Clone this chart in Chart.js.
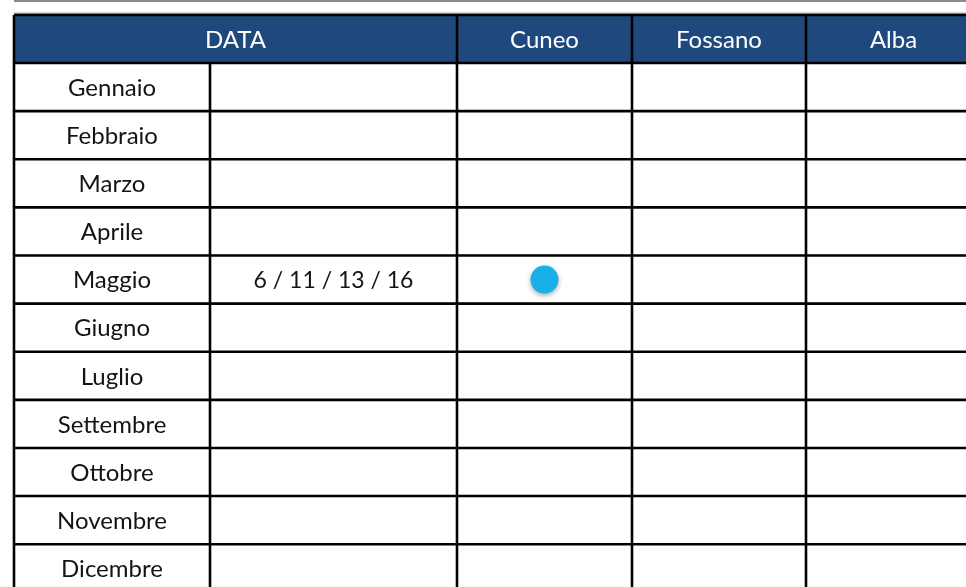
<!DOCTYPE html>
<html>
<head>
<meta charset="utf-8">
<script src="https://cdn.jsdelivr.net/npm/chart.js@4/dist/chart.umd.min.js"></script>
<style>
  html, body { margin: 0; padding: 0; background: #fff; }
  #wrap { width: 966px; height: 587px; position: relative; }
</style>
</head>
<body>
<div id="wrap"><canvas id="tableChart"></canvas></div>
<script>
// table contents
const headerLabel = 'DATA';
const cities = ['Cuneo', 'Fossano', 'Alba'];
const months = ['Gennaio', 'Febbraio', 'Marzo', 'Aprile', 'Maggio', 'Giugno', 'Luglio', 'Settembre', 'Ottobre', 'Novembre', 'Dicembre'];
const dates = ['', '', '', '', '6 / 11 / 13 / 16', '', '', '', '', '', ''];
// marked cells (month + city)
const markMonths = ['Maggio'];
const markCities = ['Cuneo'];

// layout: column widths (month, dates, then one per city)
const colWidths = [196, 247, 175, 174, 175];
const colEdges = [0];
colWidths.forEach(w => colEdges.push(colEdges[colEdges.length - 1] + w));
const colCenter = i => (colEdges[i] + colEdges[i + 1]) / 2;

const BLUE = '#1f497d';
const FONT = 'Lato, "Open Sans", sans-serif';

const tablePlugin = {
  id: 'tableGrid',
  beforeDatasetsDraw(chart) {
    const { ctx, scales: { x, y } } = chart;
    const px = v => x.getPixelForValue(v);
    const py = v => y.getPixelForValue(v);
    const left = px(colEdges[0]);
    const right = px(colEdges[colEdges.length - 1]);
    const top = py(-0.5);
    const bottom = py(months.length + 0.5);

    ctx.save();
    // thin rules above the table
    ctx.fillStyle = '#8c8c8c';
    ctx.fillRect(left, 0, right - left, 2);
    ctx.fillStyle = '#d4d4d4';
    ctx.fillRect(left, top - 3, right - left, 1);

    // header band
    ctx.fillStyle = BLUE;
    ctx.fillRect(left, top, right - left, py(0.5) - top);

    ctx.textAlign = 'center';
    ctx.textBaseline = 'middle';
    ctx.font = '24px ' + FONT;
    ctx.fillStyle = '#ffffff';
    ctx.fillText(headerLabel, (px(colEdges[0]) + px(colEdges[2])) / 2, py(0) + 1);
    cities.forEach((c, i) => ctx.fillText(c, px(colCenter(i + 2)), py(0) + 1));

    // body
    ctx.fillStyle = '#141414';
    months.forEach((m, i) => {
      ctx.font = '24px ' + FONT;
      ctx.fillText(m, px(colCenter(0)), py(i + 1) + 1);
      if (dates[i]) {
        ctx.font = '23px ' + FONT;
        ctx.fillText(dates[i], px(colCenter(1)), py(i + 1) + 1);
      }
    });

    // grid
    ctx.strokeStyle = '#000';
    ctx.lineWidth = 2.6;
    ctx.beginPath();
    for (let r = -1; r <= months.length; r++) {
      const yy = py(r + 0.5);
      ctx.moveTo(left, yy);
      ctx.lineTo(right, yy);
    }
    colEdges.forEach((e, i) => {
      const startY = i === 1 ? py(0.5) : top;
      ctx.moveTo(px(e), startY);
      ctx.lineTo(px(e), bottom);
    });
    ctx.stroke();
    ctx.restore();
  }
};

const shadowPlugin = {
  id: 'dotShadow',
  beforeDatasetDraw(chart) {
    const ctx = chart.ctx;
    ctx.save();
    ctx.shadowColor = 'rgba(0, 0, 0, 0.35)';
    ctx.shadowBlur = 5;
    ctx.shadowOffsetY = 2;
  },
  afterDatasetDraw(chart) {
    chart.ctx.restore();
  }
};

const dots = markMonths.map((m, i) => ({
  x: colCenter(2 + cities.indexOf(markCities[i])),
  y: months.indexOf(m) + 1
}));

new Chart(document.getElementById('tableChart'), {
  type: 'scatter',
  data: {
    datasets: [{
      data: dots,
      pointRadius: 14,
      pointHoverRadius: 14,
      backgroundColor: '#1aafe6',
      borderWidth: 0
    }]
  },
  options: {
    responsive: true,
    maintainAspectRatio: false,
    animation: false,
    layout: { padding: 0, autoPadding: false },
    plugins: { legend: { display: false }, tooltip: { enabled: false } },
    scales: {
      x: { type: 'linear', display: false, min: -14, max: 952 },
      y: { type: 'linear', display: false, reverse: true, min: -0.81, max: 11.39 }
    }
  },
  plugins: [tablePlugin, shadowPlugin]
});
</script>
</body>
</html>
